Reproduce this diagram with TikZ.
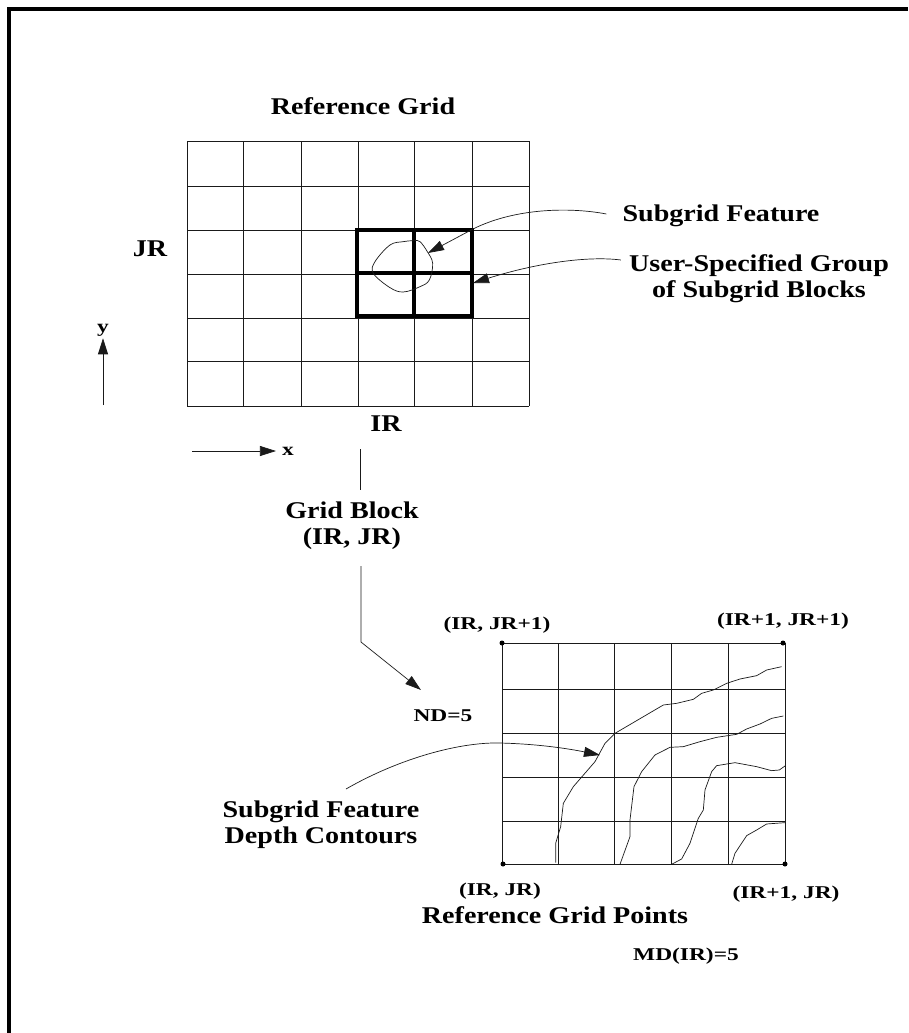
\documentclass[tikz,border=0pt]{standalone}
\usepackage{fontspec}
\setmainfont{Liberation Serif}
\newfontfamily\widefont[FakeStretch=1.17]{Liberation Serif}
\newfontfamily\widerfont[FakeStretch=1.3]{Liberation Serif}
\usetikzlibrary{arrows.meta}
\definecolor{ink}{HTML}{1A1A1A}
\begin{document}
\begin{tikzpicture}[
  x=1pt,y=-1pt,
  label/.style={font=\widefont\bfseries\fontsize{24}{26}\selectfont,align=center,inner sep=0pt,text=black},
  small/.style={font=\widerfont\bfseries\fontsize{18}{20}\selectfont,align=center,inner sep=0pt,text=black},
  thin grid/.style={draw=ink,line width=0.8pt},
  heavy/.style={draw=black,line width=3.2pt},
  contour/.style={draw=ink,line width=0.7pt},
  arrow/.style={draw=ink,line width=0.7pt,-{Triangle[length=16pt,width=10pt]}},
  corner/.style={circle,fill=black,inner sep=0pt,minimum size=5pt}
]
\useasboundingbox (0,0) rectangle (908,1033);
\draw[line width=4pt,draw=black] (9,1033) -- (9,9) -- (908,9);
% reference grid
\foreach \gx in {187,243,301,358,414,472,529} \draw[thin grid] (\gx,141) -- (\gx,406);
\foreach \gy in {141,186,230,274,318,361,406} \draw[thin grid] (187,\gy) -- (529,\gy);
\draw[heavy] (357,230) rectangle (472,316);
\draw[heavy] (414,230) -- (414,316);
\draw[heavy] (357,273) -- (472,273);
\begin{scope}[shift={(340,190)},scale=0.3333]
\draw[contour] plot[smooth cycle,tension=0.6] coordinates {(222,152) (240,155) (262,185) (278,220) (268,270) (240,290) (190,306) (150,293) (100,250) (105,215) (150,165) (190,155)};
\end{scope}
\node[label] (title) at (363,106) {Reference Grid};
\node[label] (jr) at (150,249) {JR};
\node[label] (ir) at (386,424) {IR};
\node[label] (feature) at (721,216) {Subgrid Feature};
\node[label] (group) at (759,279) {User-Specified Group\\of Subgrid Blocks};
\coordinate (featuretip) at (428,253);
\coordinate (grouptip) at (473,283);
\draw[arrow] ([xshift=-16pt,yshift=2pt]feature.west) .. controls (570,207) and (515,208) .. (473,229) -- (featuretip);
\draw[arrow] ([xshift=-8pt,yshift=19pt]group.west) .. controls (590,256) and (540,262) .. (grouptip);
% axes
\node[small] (ylab) at (103,330) {y};
\node[small] (xlab) at (288,451) {x};
\coordinate (ybase) at (103,405);
\coordinate (xbase) at (192,451);
\draw[arrow,shorten >=2pt] (ybase) -- (ylab.south);
\draw[arrow,shorten >=6pt] (xbase) -- (xlab.west |- xbase);
% grid block leader
\node[label] (block) at (352,526) {Grid Block\\(IR, JR)};
\coordinate (leadtop) at (360,449);
\coordinate (leadmid) at (360,490);
\coordinate (leadlow) at (361,566);
\coordinate (leadbend) at (361,642);
\coordinate (leadtip) at (421,690);
\draw[contour] (leadtop) -- (leadmid);
\draw[arrow] (leadlow) -- (leadbend) -- (leadtip);
% fine grid
\foreach \gx in {502,558,614,671,728,785} \draw[thin grid] (\gx,643) -- (\gx,864);
\foreach \gy in {643,689,733,777,821,864} \draw[thin grid] (502,\gy) -- (785,\gy);
\node[corner] (nw) at (502,643) {};
\node[corner] (ne) at (783,643) {};
\node[corner] (sw) at (503,864) {};
\node[corner] (se) at (785,864) {};
\begin{scope}[shift={(490,630)},scale=0.3333]
\draw[contour] (197,698) -- (197,640) -- (212,590) -- (220,520) -- (250,470) -- (315,395) -- (345,340) -- (375,310) -- (520,225) -- (560,220) -- (610,208) -- (635,190) -- (670,180) -- (710,160) -- (750,147) -- (800,137) -- (830,120) -- (875,110);
\draw[contour] (390,703) -- (420,620) -- (420,570) -- (432,470) -- (455,425) -- (495,375) -- (540,352) -- (580,350) -- (630,335) -- (680,322) -- (740,313) -- (770,297) -- (810,282) -- (845,265) -- (880,258);
\draw[contour] (545,703) -- (575,687) -- (600,640) -- (625,565) -- (640,540) -- (645,480) -- (665,425) -- (680,407) -- (735,398) -- (800,410) -- (845,422) -- (868,420) -- (885,408);
\draw[contour] (725,703) -- (735,670) -- (770,617) -- (800,600) -- (830,582) -- (885,578);
\end{scope}
% lower labels
\node[small] (nwlab) at (497,625) {(IR, JR+1)};
\node[small] (nelab) at (783,621) {(IR+1, JR+1)};
\node[small] (nd) at (443,716) {ND=5};
\node[label] (depth) at (321,825) {Subgrid Feature\\Depth Contours};
\coordinate (depthstart) at (346,789);
\coordinate (depthtip) at (600,755);
\draw[arrow] (depthstart) .. controls (400,758) and (460,742) .. (500,743) .. controls (540,744) and (570,749) .. (depthtip);
\node[small] (swlab) at (500,891) {(IR, JR)};
\node[small] (selab) at (786,894) {(IR+1, JR)};
\node[label] (points) at (555,915) {Reference Grid Points};
\node[small] (md) at (686,956) {MD(IR)=5};
\end{tikzpicture}
\end{document}
